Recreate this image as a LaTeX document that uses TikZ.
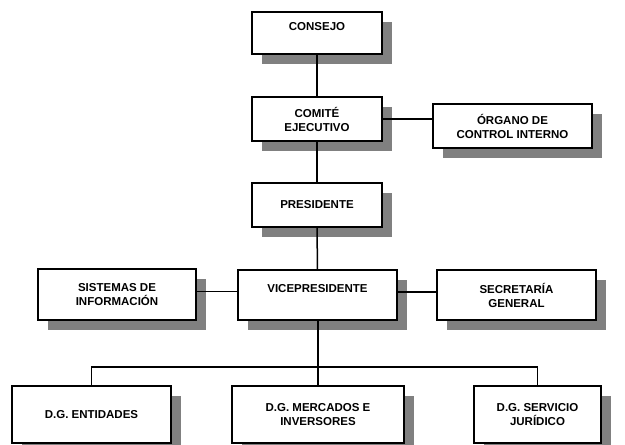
\documentclass[tikz,border=0pt]{standalone}
\usepackage{fontspec}
\setmainfont{Liberation Sans}
\usetikzlibrary{shadows}
\definecolor{shadowgray}{HTML}{808080}
\tikzset{
  orgbox/.style={draw=black, line width=1.7pt, fill=white, rectangle, align=center,
    inner sep=0pt, font=\fontsize{11.5}{14}\selectfont\bfseries,
    drop shadow={shadow xshift=10pt, shadow yshift=-10pt, fill=shadowgray, opacity=1}},
  link/.style={draw=black, line width=1.5pt}
}
\begin{document}
\begin{tikzpicture}[x=1pt,y=-1pt]
\useasboundingbox (0,0) rectangle (625,445);
\clip (0,0) rectangle (625,445);
\node[orgbox, minimum width=130, minimum height=42] (consejo) at (317,33) {CONSEJO\\\mbox{}};
\node[orgbox, minimum width=130, minimum height=44] (comite) at (317,119) {COMITÉ\\EJECUTIVO};
\node[orgbox, minimum width=130, minimum height=44] (presidente) at (317,205) {PRESIDENTE};
\node[orgbox, minimum width=159, minimum height=44] (organo) at (512.5,126) {ÓRGANO DE\\CONTROL INTERNO};
\node[orgbox, minimum width=158, minimum height=51] (sistemas) at (117,294.5) {SISTEMAS DE\\INFORMACIÓN};
\node[orgbox, minimum width=159, minimum height=50] (vice) at (317.5,295) {VICEPRESIDENTE\\\mbox{}};
\node[orgbox, minimum width=159, minimum height=50] (secretaria) at (516.5,295) {SECRETARÍA\\GENERAL};
\node[orgbox, minimum width=159, minimum height=57] (entidades) at (91.5,414.5) {D.G. ENTIDADES};
\node[orgbox, minimum width=172, minimum height=57] (mercados) at (318,414.5) {D.G. MERCADOS E\\INVERSORES};
\node[orgbox, minimum width=127, minimum height=57] (juridico) at (537.5,414.5) {D.G. SERVICIO\\JURÍDICO};
\coordinate (bus) at (318,367);
\draw[link] (consejo.south) -- (comite.north);
\draw[link] (comite.south) -- (presidente.north);
\draw[link] (presidente.south) -- (vice.north);
\draw[link] (comite.east) -- (organo.west |- comite.east);
\draw[link] ([yshift=3pt]sistemas.east) -- ([yshift=3pt]sistemas.east -| vice.west);
\draw[link] ([yshift=3pt]vice.east) -- ([yshift=3pt]vice.east -| secretaria.west);
\draw[link] (vice.south -| bus) -- (mercados.north);
\draw[link] (entidades.north) -- (entidades.north |- bus) -- (juridico.north |- bus) -- (juridico.north);
\end{tikzpicture}
\end{document}
